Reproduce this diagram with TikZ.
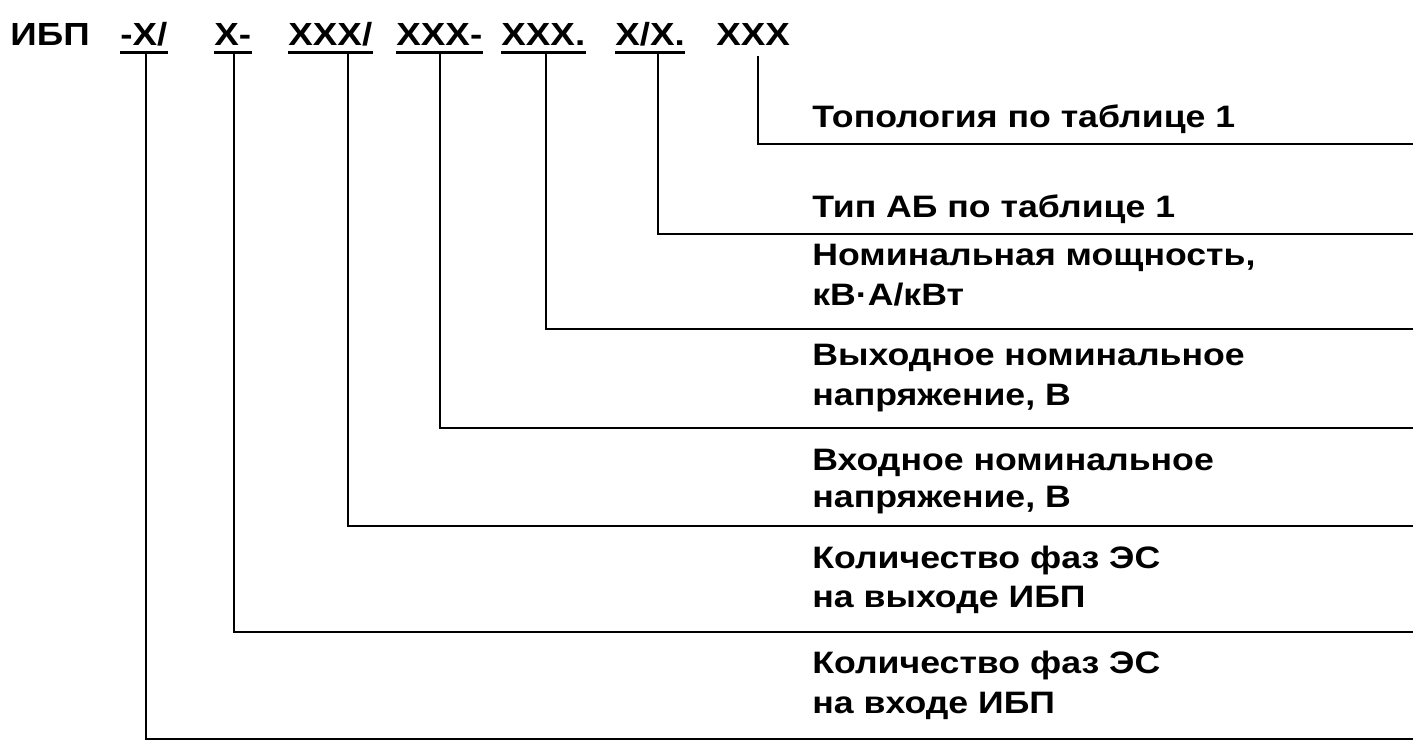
\documentclass[tikz,border=0pt]{standalone}
\usepackage{fontspec}
\setmainfont[FakeStretch=1.15]{Liberation Sans}
\begin{document}
\begin{tikzpicture}[x=0.5pt,y=-0.5pt,
  hdr/.style={anchor=base west,inner sep=0pt,font=\fontsize{16}{16}\selectfont\bfseries},
  lbl/.style={anchor=base west,inner sep=0pt,font=\fontsize{15.5}{15.5}\selectfont\bfseries},
  ln/.style={line width=1.35pt,line cap=rect},
  ul/.style={line width=1.5pt}]
\useasboundingbox (0,0) rectangle (1419,749);
% header code
\node[hdr] (ibp) at (10,46) {ИБП};
\node[hdr] (s1) at (120,46) {-Х/};
\node[hdr] (s2) at (214,46) {Х-};
\node[hdr] (s3) at (288,46) {ХХХ/};
\node[hdr] (s4) at (396,46) {ХХХ-};
\node[hdr] (s5) at (501,46) {ХХХ.};
\node[hdr] (s6) at (615,46) {Х/Х.};
\node[hdr] (s7) at (716,46) {ХХХ};
% underlines
\foreach \n in {s1,s2,s3,s4,s5,s6}
  \draw[ul] ([yshift=-3.5pt]\n.base west) -- ([yshift=-3.5pt]\n.base east);
% connector ends
\coordinate (t1) at (146,53);
\coordinate (t2) at (234,53);
\coordinate (t3) at (348,53);
\coordinate (t4) at (440,53);
\coordinate (t5) at (546,53);
\coordinate (t6) at (658,53);
\coordinate (t7) at (758,57);
\coordinate (r1) at (1412,739);
\coordinate (r2) at (1412,632);
\coordinate (r3) at (1412,526);
\coordinate (r4) at (1412,428);
\coordinate (r5) at (1412,329);
\coordinate (r6) at (1412,234);
\coordinate (r7) at (1412,144);
\foreach \i in {1,...,7}
  \draw[ln] (t\i) |- (r\i);
% labels
\node[lbl] (l7) at (812,127) {Топология по таблице 1};
\node[lbl] (l6) at (812,217) {Тип АБ по таблице 1};
\node[lbl] (l5a) at (812,265) {Номинальная мощность,};
\node[lbl] (l5b) at (812,305) {кВ·А/кВт};
\node[lbl] (l4a) at (812,365) {Выходное номинальное};
\node[lbl] (l4b) at (812,405) {напряжение, В};
\node[lbl] (l3a) at (812,470) {Входное номинальное};
\node[lbl] (l3b) at (812,507) {напряжение, В};
\node[lbl] (l2a) at (812,568) {Количество фаз ЭС};
\node[lbl] (l2b) at (812,607) {на выходе ИБП};
\node[lbl] (l1a) at (812,673) {Количество фаз ЭС};
\node[lbl] (l1b) at (812,713) {на входе ИБП};
\end{tikzpicture}
\end{document}
